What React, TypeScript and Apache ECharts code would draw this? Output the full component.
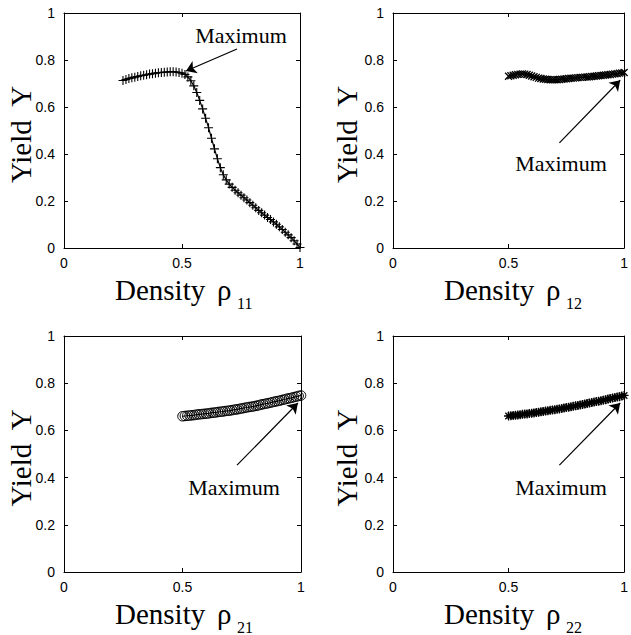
import React, { useEffect, useRef } from "react";
import * as echarts from "echarts";

// ---- data ----
const rho11 = [0.25, 0.2625, 0.275, 0.2875, 0.3, 0.3125, 0.325, 0.3375, 0.35, 0.3625, 0.375, 0.3875, 0.4, 0.4125, 0.425, 0.4375, 0.45, 0.4625, 0.475, 0.4875, 0.5, 0.5125, 0.525, 0.5375, 0.55, 0.5625, 0.575, 0.5875, 0.6, 0.6125, 0.625, 0.6375, 0.65, 0.6625, 0.675, 0.6875, 0.7, 0.7125, 0.725, 0.7375, 0.75, 0.7625, 0.775, 0.7875, 0.8, 0.8125, 0.825, 0.8375, 0.85, 0.8625, 0.875, 0.8875, 0.9, 0.9125, 0.925, 0.9375, 0.95, 0.9625, 0.975, 0.9875, 1.0];
const yield11 = [0.713, 0.717, 0.721, 0.724, 0.727, 0.730, 0.733, 0.735, 0.737, 0.740, 0.742, 0.744, 0.746, 0.747, 0.748, 0.749, 0.750, 0.750, 0.749, 0.747, 0.744, 0.738, 0.728, 0.712, 0.690, 0.662, 0.628, 0.592, 0.552, 0.512, 0.467, 0.422, 0.380, 0.342, 0.312, 0.290, 0.272, 0.258, 0.246, 0.235, 0.225, 0.214, 0.204, 0.193, 0.182, 0.171, 0.160, 0.150, 0.140, 0.130, 0.121, 0.111, 0.101, 0.090, 0.079, 0.067, 0.056, 0.044, 0.031, 0.017, 0.002];

const rhoB = [0.50, 0.51, 0.52, 0.53, 0.54, 0.55, 0.56, 0.57, 0.58, 0.59, 0.60, 0.61, 0.62, 0.63, 0.64, 0.65, 0.66, 0.67, 0.68, 0.69, 0.70, 0.71, 0.72, 0.73, 0.74, 0.75, 0.76, 0.77, 0.78, 0.79, 0.80, 0.81, 0.82, 0.83, 0.84, 0.85, 0.86, 0.87, 0.88, 0.89, 0.90, 0.91, 0.92, 0.93, 0.94, 0.95, 0.96, 0.97, 0.98, 0.99, 1.00];
const yield12 = [0.731, 0.733, 0.735, 0.737, 0.739, 0.740, 0.741, 0.740, 0.738, 0.735, 0.732, 0.729, 0.726, 0.723, 0.721, 0.719, 0.718, 0.717, 0.716, 0.716, 0.716, 0.716, 0.717, 0.718, 0.719, 0.720, 0.721, 0.722, 0.723, 0.724, 0.725, 0.726, 0.726, 0.727, 0.728, 0.729, 0.730, 0.731, 0.732, 0.733, 0.734, 0.735, 0.736, 0.737, 0.738, 0.740, 0.741, 0.742, 0.744, 0.745, 0.747];
const yield21 = [0.660, 0.661, 0.662, 0.663, 0.664, 0.665, 0.667, 0.668, 0.669, 0.670, 0.671, 0.672, 0.674, 0.675, 0.676, 0.678, 0.679, 0.680, 0.682, 0.683, 0.684, 0.686, 0.688, 0.689, 0.691, 0.693, 0.695, 0.697, 0.699, 0.700, 0.702, 0.704, 0.706, 0.709, 0.711, 0.713, 0.715, 0.717, 0.720, 0.722, 0.724, 0.726, 0.729, 0.731, 0.734, 0.736, 0.738, 0.741, 0.743, 0.746, 0.748];
const yield22 = [0.661, 0.662, 0.663, 0.664, 0.665, 0.666, 0.668, 0.669, 0.670, 0.672, 0.673, 0.674, 0.676, 0.677, 0.679, 0.680, 0.682, 0.683, 0.685, 0.686, 0.688, 0.690, 0.691, 0.693, 0.695, 0.697, 0.698, 0.700, 0.702, 0.704, 0.706, 0.708, 0.710, 0.712, 0.714, 0.716, 0.718, 0.720, 0.722, 0.724, 0.726, 0.728, 0.730, 0.733, 0.735, 0.737, 0.739, 0.741, 0.743, 0.746, 0.748];

const subscripts = ["11", "12", "21", "22"];
const xTicks = ["0", "0.5", "1"];
const yTicks = ["0", "0.2", "0.4", "0.6", "0.8", "1"];

// arrow [from, to] in data coordinates
const arrows = [
  [[0.733, 0.847], [0.517, 0.753]],
  [[0.72, 0.447], [0.983, 0.714]],
  [[0.73, 0.453], [0.987, 0.716]],
  [[0.72, 0.453], [0.983, 0.716]],
];

const SERIF = "'Liberation Serif', 'Times New Roman', serif";
const SANS = "'Liberation Sans', Arial, sans-serif";

const grids = [
  { left: 64, top: 13, width: 236, height: 235 },
  { left: 393, top: 13, width: 236, height: 235 },
  { left: 64, top: 336, width: 237, height: 236 },
  { left: 393, top: 336, width: 236, height: 236 },
];

const maxLabelPos = [
  [241, 35],
  [561, 163],
  [234, 487],
  [561, 487],
];

const PLUS = "path://M0,-1V1M-1,0H1";
const CROSS = "path://M-1,-1L1,1M-1,1L1,-1";
const STAR = "path://M0,-1V1M-1,0H1M-0.72,-0.72L0.72,0.72M-0.72,0.72L0.72,-0.72";

export default function App() {
  const ref = useRef<HTMLDivElement>(null);
  useEffect(() => {
    if (!ref.current) return;
    const chart = echarts.init(ref.current, undefined, { renderer: "svg" });
    const zip = (xs: number[], ys: number[]) => xs.map((x, i) => [x, ys[i]]);
    const datasets = [
      zip(rho11, yield11),
      zip(rhoB, yield12),
      zip(rhoB, yield21),
      zip(rhoB, yield22),
    ];
    const markers = [
      { symbol: PLUS, size: 9, bw: 1.1 },
      { symbol: CROSS, size: 7, bw: 1.3 },
      { symbol: "circle", size: 9.5, bw: 1 },
      { symbol: STAR, size: 9, bw: 1.3 },
    ];

    const xAxis: any[] = [];
    const yAxis: any[] = [];
    grids.forEach((_, i) => {
      const base = {
        gridIndex: i,
        type: "value",
        min: 0,
        max: 1,
        splitLine: { show: false },
        axisLine: { show: true, onZero: false, lineStyle: { color: "#000", width: 1 } },
        axisTick: { show: true, inside: true, length: 4, lineStyle: { color: "#000", width: 1 } },
      };
      xAxis.push({
        ...base,
        position: "bottom",
        interval: 0.5,
        axisLabel: {
          show: true,
          margin: 8,
          color: "#000",
          fontFamily: SANS,
          fontSize: 14,
          formatter: (v: number) => xTicks[Math.round(v * 2)],
        },
      });
      xAxis.push({ ...base, position: "top", interval: 0.5, axisLabel: { show: false } });
      yAxis.push({
        ...base,
        position: "left",
        interval: 0.2,
        axisLabel: {
          show: true,
          margin: 9,
          color: "#000",
          fontFamily: SANS,
          fontSize: 14,
          formatter: (v: number) => yTicks[Math.round(v * 5)],
        },
      });
      yAxis.push({ ...base, position: "right", interval: 0.2, axisLabel: { show: false } });
    });

    const series = datasets.map((data, i) => ({
      type: "line",
      xAxisIndex: 2 * i,
      yAxisIndex: 2 * i,
      data,
      symbol: markers[i].symbol,
      symbolSize: markers[i].size,
      showAllSymbol: true,
      lineStyle: { color: "#000", width: 1.2 },
      itemStyle: { color: "none", borderColor: "#000", borderWidth: markers[i].bw },
      markLine: {
        silent: true,
        symbol: ["none", "arrow"],
        symbolSize: 10,
        label: { show: false },
        lineStyle: { color: "#000", width: 1.2, type: "solid" },
        data: [[{ coord: arrows[i][0] }, { coord: arrows[i][1] }]],
      },
      z: 3,
    }));

    const graphic: any[] = [];
    grids.forEach((g, i) => {
      const yCenter = g.top + g.height / 2 + 4;
      const yLabelX = g.left - 43 - (i % 2 === 1 ? 3 : 0);
      graphic.push({
        type: "text",
        x: yLabelX,
        y: yCenter,
        rotation: Math.PI / 2,
        style: {
          text: "Yield  Y",
          fontFamily: SERIF,
          fontSize: 29,
          fill: "#000",
          align: "center",
          verticalAlign: "middle",
        },
      });
      const base = g.top + g.height;
      graphic.push({
        type: "text",
        x: g.left + 51,
        y: base + 42,
        style: { text: "Density", fontFamily: SERIF, fontSize: 29, fill: "#000", align: "left", verticalAlign: "middle" },
      });
      graphic.push({
        type: "text",
        x: g.left + 153,
        y: base + 42,
        style: { text: "ρ", fontFamily: SERIF, fontSize: 29, fill: "#000", align: "left", verticalAlign: "middle" },
      });
      graphic.push({
        type: "text",
        x: g.left + 173,
        y: base + 55,
        style: { text: subscripts[i], fontFamily: SERIF, fontSize: 16, fill: "#000", align: "left", verticalAlign: "middle" },
      });
      graphic.push({
        type: "text",
        x: maxLabelPos[i][0],
        y: maxLabelPos[i][1],
        style: { text: "Maximum", fontFamily: SERIF, fontSize: 22, fill: "#000", align: "center", verticalAlign: "middle" },
      });
    });

    chart.setOption({
      animation: false,
      backgroundColor: "#fff",
      grid: grids,
      xAxis,
      yAxis,
      series,
      graphic,
    });
    return () => chart.dispose();
  }, []);
  return <div ref={ref} style={{ position: "fixed", left: 0, top: 0, width: 631, height: 635 }} />;
}
